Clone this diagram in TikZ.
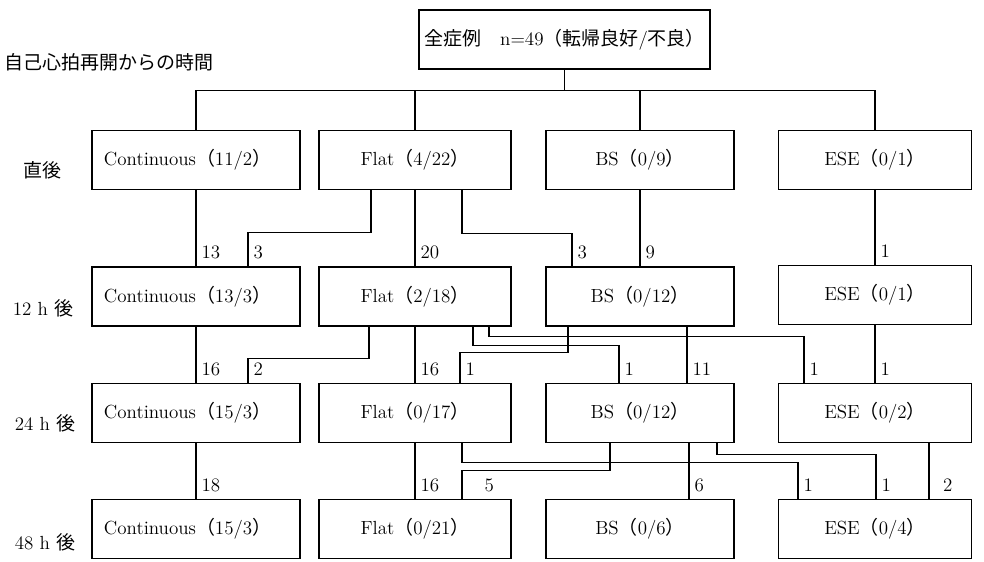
\documentclass[tikz,border=0pt]{standalone}
\usepackage{fontspec}
\newfontfamily\jp{Noto Sans CJK JP}
\usepackage{tikz}
\usetikzlibrary{calc}
\tikzset{
  caja/.style={rectangle, draw=black, line width=1pt, minimum height=1.475cm, inner sep=0pt, font=\fontsize{13.5}{15}\selectfont},
  cajaC/.style={caja, text width=4.6cm, inner xsep=0.3cm, align=left},
  cajaF/.style={caja, minimum width=4.8cm},
  cajaB/.style={caja, minimum width=4.7cm},
  cajaE/.style={caja, minimum width=4.825cm},
  tiempo/.style={inner sep=0pt, font=\fontsize{13.5}{15}\selectfont},
  linea/.style={line width=1pt},
  num/.style={anchor=base west, inner sep=0pt, xshift=3.5pt, yshift=5.5pt, font=\fontsize{13.5}{15}\selectfont}
}
\newcommand{\casos}[1]{{\jp （}#1{\jp ）}}

\begin{document}
\begin{tikzpicture}[x=0.025cm, y=-0.025cm]
    \useasboundingbox (0,0) rectangle (984,561);

    % Caja superior
    \node[caja, minimum width=7.275cm] (todos) at (564.5,39.5) {{\jp 全症例　}n=49\casos{{\jp 転帰良好}/{\jp 不良}}};

    % Etiquetas de tiempo (columna izquierda)
    \node[tiempo, anchor=west] (titulo) at (4,62) {\jp 自己心拍再開からの時間};
    \node[tiempo] (t0) at (42,170) {\jp 直後};
    \node[tiempo] (t12) at (43,308) {12 h {\jp 後}};
    \node[tiempo] (t24) at (45,423) {24 h {\jp 後}};
    \node[tiempo] (t48) at (45,542) {48 h {\jp 後}};

    % Fila 1: 直後
    \node[cajaC] (c1) at (196,160) {Continuous\casos{11/2}};
    \node[cajaF] (f1) at (415,160) {Flat\casos{4/22}};
    \node[cajaB] (b1) at (640,160) {BS\casos{0/9}};
    \node[cajaE] (e1) at (875,160) {ESE\casos{0/1}};

    % Fila 2: 12 h
    \node[cajaC] (c2) at (196,296.5) {Continuous\casos{13/3}};
    \node[cajaF] (f2) at (415,296.5) {Flat\casos{2/18}};
    \node[cajaB] (b2) at (640,296.5) {BS\casos{0/12}};
    \node[cajaE] (e2) at (875,295) {ESE\casos{0/1}};

    % Fila 3: 24 h
    \node[cajaC] (c3) at (196,413) {Continuous\casos{15/3}};
    \node[cajaF] (f3) at (415,413) {Flat\casos{0/17}};
    \node[cajaB] (b3) at (640,413) {BS\casos{0/12}};
    \node[cajaE] (e3) at (875,413) {ESE\casos{0/2}};

    % Fila 4: 48 h
    \node[cajaC] (c4) at (196,529) {Continuous\casos{15/3}};
    \node[cajaF] (f4) at (415,529) {Flat\casos{0/21}};
    \node[cajaB] (b4) at (640,529) {BS\casos{0/6}};
    \node[cajaE] (e4) at (875,529) {ESE\casos{0/4}};

    % --- BARRA SUPERIOR ---
    \draw[linea] (todos.south) -- ++(0,21) coordinate (bus);
    \draw[linea] (c1.north) |- (bus) -| (e1.north);
    \draw[linea] (f1.north) -- (f1.north |- bus);
    \draw[linea] (b1.north) -- (b1.north |- bus);

    % --- 直後 -> 12 h ---
    \draw[linea] (c1.south) -- (c2.north) node[num] {13};
    \draw[linea] ($(f1.south)+(-44,0)$) -- ++(0,42) -| ($(c2.north)+(52,0)$) node[num] {3};
    \draw[linea] (f1.south) -- (f2.north) node[num] {20};
    \draw[linea] ($(f1.south)+(47,0)$) -- ++(0,43) -| ($(b2.north)+(-68,0)$) node[num] {3};
    \draw[linea] (b1.south) -- (b2.north) node[num] {9};
    \draw[linea] (e1.south) -- (e2.north) node[num] {1};

    % --- 12 h -> 24 h ---
    \draw[linea] (c2.south) -- (c3.north) node[num] {16};
    \draw[linea] ($(f2.south)+(-46,0)$) -- ++(0,32) -| ($(c3.north)+(52,0)$) node[num] {2};
    \draw[linea] (f2.south) -- (f3.north) node[num] {16};
    \draw[linea] ($(f2.south)+(58,0)$) -- ++(0,19) -| ($(b3.north)+(-21,0)$) node[num] {1};
    \draw[linea] ($(f2.south)+(74,0)$) -- ++(0,10) -| ($(e3.north)+(-71,0)$) node[num] {1};
    \draw[linea] ($(b2.south)+(-72,0)$) -- ++(0,26) -| ($(f3.north)+(45,0)$) node[num] {1};
    \draw[linea] ($(b2.south)+(47,0)$) -- ($(b3.north)+(47,0)$) node[num] {11};
    \draw[linea] (e2.south) -- (e3.north) node[num] {1};

    % --- 24 h -> 48 h ---
    \draw[linea] (c3.south) -- (c4.north) node[num] {18};
    \draw[linea] (f3.south) -- (f4.north) node[num] {16};
    \draw[linea] ($(f3.south)+(47,0)$) -- ++(0,19) -| ($(e4.north)+(-77,0)$) node[num] {1};
    \draw[linea] ($(b3.south)+(-30,0)$) -- ++(0,27) -| ($(f4.north)+(47,0)$) node[num, xshift=12pt] {5};
    \draw[linea] ($(b3.south)+(49,0)$) -- ($(b4.north)+(49,0)$) node[num] {6};
    \draw[linea] ($(b3.south)+(77,0)$) -- ++(0,11) -| ($(e4.north)+(1,0)$) node[num] {1};
    \draw[linea] ($(e3.south)+(54,0)$) -- ($(e4.north)+(54,0)$) node[num, xshift=6pt] {2};

\end{tikzpicture}
\end{document}
